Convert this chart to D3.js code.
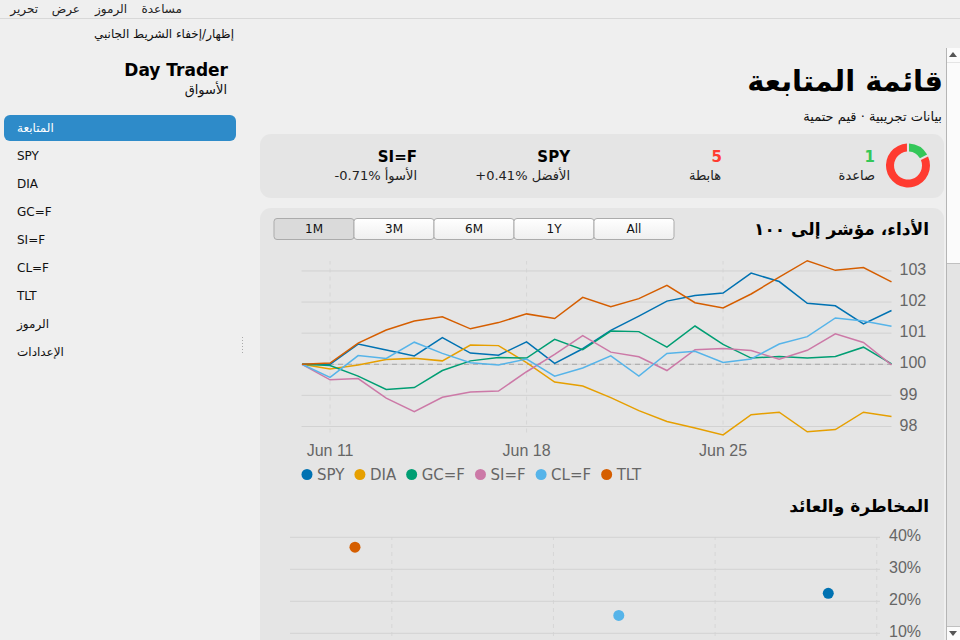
<!DOCTYPE html>
<html lang="ar">
<head>
<meta charset="utf-8">
<title>Day Trader</title>
<script src="https://cdn.jsdelivr.net/npm/d3@7"></script>
<style>
html, body { margin: 0; padding: 0; overflow: hidden; background: #efefef; }
svg { display: block; font-family: "DejaVu Sans", sans-serif; }
.grid line { stroke: #d2d2d2; }
.vgrid line { stroke: #d6d6d6; stroke-dasharray: 4 4; }
.tick text { fill: #666; font-size: 16px; }
.legend text { fill: #666; font-size: 15px; }
.domain { display: none; }
</style>
</head>
<body>
<svg id="page" width="960" height="640"></svg>
<script>
const menuLabels = ['مساعدة', 'الرموز', 'عرض', 'تحرير'];
const menuRight = [182, 127, 80, 38];
const navItems = ['المتابعة', 'SPY', 'DIA', 'GC=F', 'SI=F', 'CL=F', 'TLT', 'الرموز', 'الإعدادات'];
const ranges = ['1M', '3M', '6M', '1Y', 'All'];

const symbols = ['SPY', 'DIA', 'GC=F', 'SI=F', 'CL=F', 'TLT'];
const colors = ['#0072B2', '#E69F00', '#009E73', '#CC79A7', '#56B4E9', '#D55E00'];

const firstDay = new Date(2024, 5, 10);
const dayTicks = [new Date(2024, 5, 11), new Date(2024, 5, 18), new Date(2024, 5, 25)];
const perfTicks = [98, 99, 100, 101, 102, 103];

const spy = [100, 100, 100.65, 100.46, 100.27, 100.86, 100.36, 100.29, 100.72, 100.03, 100.5, 101.09, 101.55, 102.03, 102.21, 102.29, 102.93, 102.66, 101.96, 101.88, 101.3, 101.73];
const dia = [100, 99.85, 99.98, 100.15, 100.19, 100.11, 100.62, 100.6, 100.05, 99.43, 99.3, 98.93, 98.51, 98.16, 97.95, 97.73, 98.38, 98.46, 97.83, 97.9, 98.46, 98.32];
const gc = [100, 99.96, 99.62, 99.19, 99.25, 99.8, 100.11, 100.22, 100.2, 100.8, 100.47, 101.07, 101.05, 100.55, 101.23, 100.64, 100.2, 100.25, 100.2, 100.25, 100.55, 100.01];
const si = [100, 99.5, 99.54, 98.91, 98.48, 98.94, 99.11, 99.14, 99.76, 100.32, 100.92, 100.39, 100.24, 99.8, 100.47, 100.51, 100.44, 100.16, 100.45, 100.98, 100.7, 99.98];
const cl = [100, 99.58, 100.28, 100.19, 100.71, 100.35, 100.05, 99.98, 100.17, 99.62, 99.88, 100.27, 99.62, 100.35, 100.42, 100.06, 100.17, 100.65, 100.89, 101.49, 101.39, 101.22];
const tlt = [100, 100.04, 100.68, 101.1, 101.39, 101.53, 101.14, 101.34, 101.62, 101.47, 102.15, 101.85, 102.11, 102.54, 101.98, 101.81, 102.26, 102.8, 103.33, 103.02, 103.11, 102.65];
const perf = [spy, dia, gc, si, cl, tlt];

// only these three risk/return points are above the fold
const riskSymbols = ['TLT', 'CL=F', 'SPY'];
const riskX = [8.86, 17.02, 23.5];
const riskY = [36.9, 15.6, 22.5];
const riskXTicks = [10, 15, 20, 25];
const riskYTicks = [10, 20, 30, 40];

const breadth = [1, 5];
const breadthColors = ['#34c759', '#ff3b30'];

const $svg = d3.select('#page');

function rtl(x, y, str, size, weight, fill) {
	return $svg.append('text')
		.attr('x', x)
		.attr('y', y)
		.attr('dy', '.35em')
		.attr('direction', 'rtl')
		.attr('font-size', size)
		.attr('font-weight', weight || 'normal')
		.attr('fill', fill || '#000')
		.text(str);
}

function card(y, h) {
	$svg.append('rect')
		.attr('x', 260).attr('y', y)
		.attr('width', 684).attr('height', h)
		.attr('rx', 11)
		.attr('fill', '#e5e5e5');
}

function drawChrome() {
	$svg.append('line')
		.attr('x1', 0).attr('x2', 960)
		.attr('y1', 18.5).attr('y2', 18.5)
		.attr('stroke', '#d8d8d8');

	menuLabels.forEach((d, i) => rtl(menuRight[i], 8.5, d, 12, 'normal', '#222'));
	rtl(234, 33.5, 'إظهار/إخفاء الشريط الجانبي', 12, 'normal', '#111');

	$svg.append('text')
		.attr('x', 228).attr('y', 76)
		.attr('text-anchor', 'end')
		.attr('font-size', 17)
		.attr('font-weight', 'bold')
		.text('Day Trader');
	rtl(227, 89, 'الأسواق', 13, 'normal', '#111');

	$svg.append('rect')
		.attr('x', 4).attr('y', 115)
		.attr('width', 232).attr('height', 26)
		.attr('rx', 6)
		.attr('fill', '#2e8bc9');

	$svg.selectAll('.nav')
		.data(navItems)
		.enter()
		.append('text')
		.attr('class', 'nav')
		.attr('x', 17)
		.attr('y', (d, i) => 128 + i * 28)
		.attr('dy', '.35em')
		.attr('font-size', 12)
		.attr('fill', (d, i) => (i ? '#111' : '#fff'))
		.text(d => d);

	$svg.append('line')
		.attr('x1', 242.5).attr('x2', 242.5)
		.attr('y1', 337).attr('y2', 354)
		.attr('stroke', '#aaa')
		.attr('stroke-dasharray', '1 2');

	// scrollbar
	$svg.append('rect').attr('x', 946).attr('y', 48).attr('width', 14).attr('height', 592).attr('fill', '#e4e4e4');
	$svg.append('rect').attr('x', 947).attr('y', 48).attr('width', 13).attr('height', 215).attr('fill', '#fbfbfb');
	$svg.append('rect').attr('x', 947).attr('y', 626).attr('width', 13).attr('height', 14).attr('fill', '#fbfbfb');
	$svg.append('line').attr('x1', 946.5).attr('x2', 946.5).attr('y1', 48).attr('y2', 640).attr('stroke', '#b5b5b5');
	$svg.append('line').attr('x1', 947).attr('x2', 960).attr('y1', 263.5).attr('y2', 263.5).attr('stroke', '#c0c0c0');
	$svg.append('line').attr('x1', 947).attr('x2', 960).attr('y1', 62.5).attr('y2', 62.5).attr('stroke', '#e4e4e4');
	$svg.append('line').attr('x1', 947).attr('x2', 960).attr('y1', 626.5).attr('y2', 626.5).attr('stroke', '#c0c0c0');
	$svg.append('path').attr('d', 'M949 57L957 57L953 52Z').attr('fill', '#555');
	$svg.append('path').attr('d', 'M949 631L957 631L953 636Z').attr('fill', '#555');
}

function drawSummary() {
	rtl(943, 81, 'قائمة المتابعة', 29, 'bold');
	rtl(942, 116, 'بيانات تجريبية · قيم حتمية', 13, 'normal', '#111');

	card(134, 64);
	card(208, 480);

	const pie = d3.pie().sort(null).padAngle(0.08);
	const arc = d3.arc().innerRadius(14).outerRadius(22);
	$svg.append('g')
		.attr('transform', 'translate(908,165.5)')
		.selectAll('path')
		.data(pie(breadth))
		.enter()
		.append('path')
		.attr('d', arc)
		.attr('fill', (d, i) => breadthColors[i]);

	rtl(875, 157, '1', 15, 'bold', breadthColors[0]);
	rtl(875, 175, 'صاعدة', 13, 'normal', '#222');
	rtl(722, 157, '5', 15, 'bold', breadthColors[1]);
	rtl(721, 175, 'هابطة', 13, 'normal', '#222');
	rtl(570, 157, 'SPY', 15, 'bold');
	rtl(570, 175, 'الأفضل \u200E+0.41%', 13, 'normal', '#222');
	rtl(417, 157, 'SI=F', 15, 'bold');
	rtl(417, 175, 'الأسوأ \u200E-0.71%', 13, 'normal', '#222');
}

function drawButtons() {
	const band = d3.scaleBand().domain(ranges).range([274, 674]);
	const grad = $svg.append('defs')
		.append('linearGradient')
		.attr('id', 'btn')
		.attr('x1', 0).attr('x2', 0).attr('y1', 0).attr('y2', 1);
	grad.append('stop').attr('offset', 0).attr('stop-color', '#ffffff');
	grad.append('stop').attr('offset', 1).attr('stop-color', '#efefef');

	const $b = $svg.selectAll('.btn')
		.data(ranges)
		.enter()
		.append('g')
		.attr('class', 'btn')
		.attr('transform', d => `translate(${band(d)},218.5)`);
	$b.append('rect')
		.attr('width', band.bandwidth())
		.attr('height', 21)
		.attr('rx', 3)
		.attr('fill', (d, i) => (i ? 'url(#btn)' : '#dadada'))
		.attr('stroke', '#ababab');
	$b.append('text')
		.attr('x', band.bandwidth() / 2)
		.attr('y', 10.5)
		.attr('dy', '.35em')
		.attr('text-anchor', 'middle')
		.attr('font-size', 12)
		.attr('fill', '#111')
		.text(d => d);

	rtl(929, 229, 'الأداء، مؤشر إلى ١٠٠', 17, 'bold');
	rtl(929, 506, 'المخاطرة والعائد', 17, 'bold');
}

function drawPerformance() {
	const x = d3.scaleTime()
		.domain([firstDay, d3.timeDay.offset(firstDay, spy.length - 1)])
		.range([302, 891.5]);
	const y = d3.scaleLinear()
		.domain([97.73, 103.33])
		.range([434.9, 260.7]);

	$svg.append('g')
		.attr('class', 'vgrid')
		.attr('transform', 'translate(0,432.5)')
		.call(d3.axisBottom(x)
			.tickValues(dayTicks)
			.tickSize(-171.5)
			.tickPadding(12)
			.offset(0)
			.tickFormat(d3.timeFormat('%b %d')));

	$svg.append('g')
		.attr('class', 'grid')
		.attr('transform', 'translate(891.5,0)')
		.call(d3.axisRight(y)
			.tickValues(perfTicks)
			.tickSize(-590)
			.tickPadding(8)
			.offset(0)
			.tickFormat(d3.format('d')))
		.selectAll('text')
		.attr('dy', '.26em');

	$svg.append('line')
		.attr('x1', 302).attr('x2', 891.5)
		.attr('y1', y(100)).attr('y2', y(100))
		.attr('stroke', '#a8a8a8')
		.attr('stroke-dasharray', '5 4');

	const line = d3.line()
		.x((d, i) => x(d3.timeDay.offset(firstDay, i)))
		.y(d => y(d));

	$svg.append('g')
		.selectAll('path')
		.data(perf)
		.enter()
		.append('path')
		.attr('d', line)
		.attr('fill', 'none')
		.attr('stroke', (d, i) => colors[i])
		.attr('stroke-width', 1.5);

	// legend flows by measured label width
	const $legend = $svg.append('g').attr('class', 'legend');
	let cx = 307;
	symbols.forEach((s, i) => {
		$legend.append('circle').attr('cx', cx).attr('cy', 474.5).attr('r', 5.5).attr('fill', colors[i]);
		const label = $legend.append('text')
			.attr('x', cx + 10).attr('y', 474.5)
			.attr('dy', '.35em')
			.text(s);
		cx += 10 + label.node().getComputedTextLength() + 15.5;
	});
}

function drawRisk() {
	const x = d3.scaleLinear().domain([6.85, 25.1]).range([290, 880]);
	const y = d3.scaleLinear().domain([10, 40]).range([633.3, 537.3]);

	// x labels sit below the fold, only the gridlines show
	$svg.append('g')
		.attr('class', 'vgrid')
		.attr('transform', 'translate(0,700)')
		.call(d3.axisBottom(x)
			.tickValues(riskXTicks)
			.tickSize(-163)
			.offset(0)
			.tickFormat(() => ''));

	$svg.append('g')
		.attr('class', 'grid')
		.attr('transform', 'translate(880,0)')
		.call(d3.axisRight(y)
			.tickValues(riskYTicks)
			.tickSize(-590)
			.tickPadding(9)
			.offset(0)
			.tickFormat(d => d + '%'))
		.selectAll('text')
		.attr('dy', '.26em');

	$svg.append('g')
		.selectAll('circle')
		.data(riskSymbols)
		.enter()
		.append('circle')
		.attr('cx', (d, i) => x(riskX[i]))
		.attr('cy', (d, i) => y(riskY[i]))
		.attr('r', 5.5)
		.attr('fill', d => colors[symbols.indexOf(d)]);
}

drawChrome();
drawSummary();
drawButtons();
drawPerformance();
drawRisk();
</script>
</body>
</html>
